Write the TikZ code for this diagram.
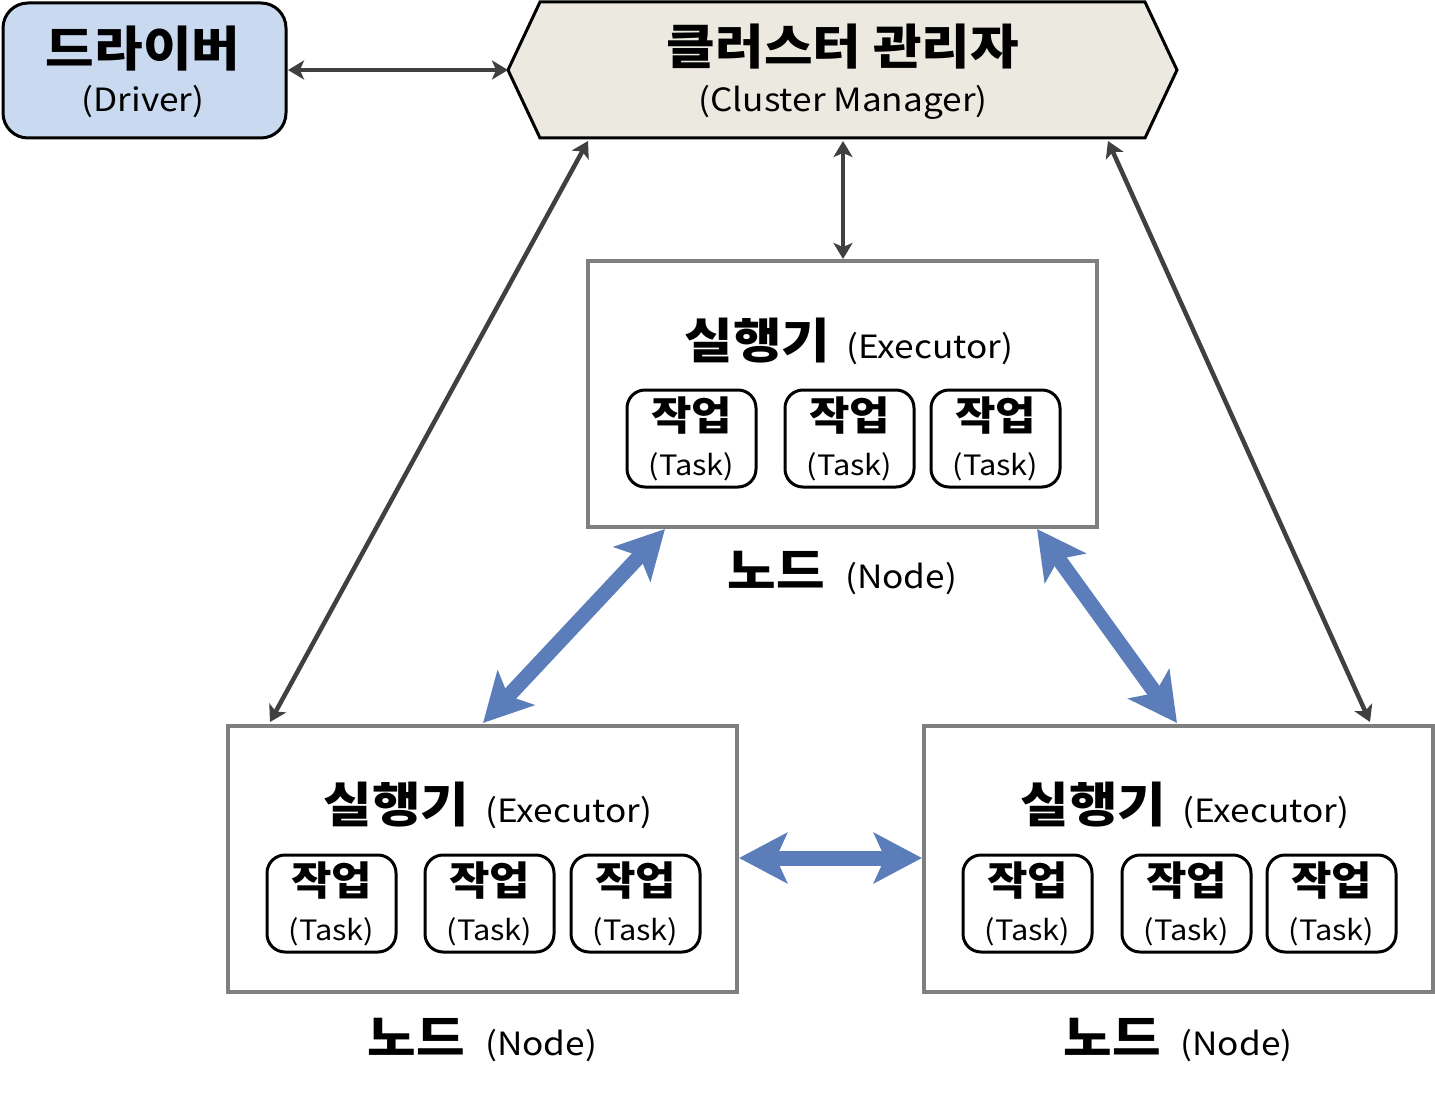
\documentclass[tikz,border=0pt]{standalone}
\usepackage{fontspec}
\setmainfont{Noto Sans CJK KR}[FakeStretch=1.1]
\usetikzlibrary{arrows.meta,calc}
\definecolor{drvfill}{HTML}{C9D9F0}
\definecolor{cmfill}{HTML}{ECE9E1}
\definecolor{boxgray}{HTML}{7F7F7F}
\definecolor{arrowgray}{HTML}{404040}
\definecolor{blueA}{HTML}{5B7DB9}
\newcommand\kTitle{\fontsize{48}{52}\selectfont\bfseries}
\newcommand\kSub{\fontsize{32}{36}\selectfont\mdseries}
\newcommand\kTask{\fontsize{40}{44}\selectfont\bfseries}
\newcommand\kTaskSub{\fontsize{28}{32}\selectfont\mdseries}
\begin{document}
\begin{tikzpicture}[x=1pt,y=-1pt,
  txt/.style={inner sep=0pt, outer sep=0pt},
  nodebox/.style={draw=boxgray, fill=white, line width=4pt, minimum width=509pt, minimum height=266pt, inner sep=0pt},
  taskbox/.style={draw=black, line width=3pt, rounded corners=18pt, minimum width=129pt, minimum height=97pt, inner sep=0pt},
  darkarrow/.style={draw=arrowgray, line width=4.5pt, {Stealth[length=16pt,width=19pt,inset=4pt]}-{Stealth[length=16pt,width=19pt,inset=4pt]}},
  bluearrow/.style={draw=blueA, line width=15pt, {Stealth[length=48pt,width=50pt,inset=11pt]}-{Stealth[length=48pt,width=50pt,inset=11pt]}}
]
\useasboundingbox (0,0) rectangle (1435,1097);

% Driver
\node[draw=black, fill=drvfill, line width=3pt, rounded corners=25pt, minimum width=283pt, minimum height=135pt, inner sep=0pt] (drv) at (144.5,70.5) {};
\node[txt] (drvT) at (143,49) {\kTitle 드라이버};
\node[txt] (drvS) at (143,102) {\kSub (Driver)};

% Cluster manager
\coordinate (cmL) at (508,70);
\coordinate (cmR) at (1177,70);
\draw[fill=cmfill, line width=3pt, line join=miter] (cmL) -- (540,2) -- (1145,2) -- (cmR) -- (1145,138) -- (540,138) -- cycle;
\node[txt] (cmT) at (843,47) {\kTitle 클러스터 관리자};
\node[txt] (cmS) at (843,102) {\kSub (Cluster Manager)};
\coordinate (cmB1) at (588,141);
\coordinate (cmB2) at (843,141);
\coordinate (cmB3) at (1108,141);

% Node boxes
\node[nodebox] (nT) at (842.5,394) {};
\node[nodebox] (nL) at (482.5,858.5) {};
\node[nodebox] (nR) at (1178,858.5) {};

% Executor labels
\node[txt, anchor=base] (eT) at (849,358) {\kTitle 실행기\hspace{16pt}\kSub (Executor)};
\node[txt, anchor=base] (eL) at (488,822) {\kTitle 실행기\hspace{16pt}\kSub (Executor)};
\node[txt, anchor=base] (eR) at (1185,822) {\kTitle 실행기\hspace{16pt}\kSub (Executor)};

% Node labels
\node[txt, anchor=base] (lT) at (842.5,588) {\kTitle 노드\hspace{20pt}\kSub (Node)};
\node[txt, anchor=base] (lL) at (482.5,1055) {\kTitle 노드\hspace{20pt}\kSub (Node)};
\node[txt, anchor=base] (lR) at (1178,1055) {\kTitle 노드\hspace{20pt}\kSub (Node)};

% Tasks
\newcommand\mytask[3]{%
  \node[taskbox] (#1) at (#2,#3) {};
  \node[txt] (#1a) at (#2,#3-23) {\kTask 작업};
  \node[txt] (#1b) at (#2,#3+28) {\kTaskSub (Task)};
}
\mytask{tT1}{691.5}{438.5}
\mytask{tT2}{849.5}{438.5}
\mytask{tT3}{995.5}{438.5}
\mytask{tL1}{331.5}{903.5}
\mytask{tL2}{489.5}{903.5}
\mytask{tL3}{635.5}{903.5}
\mytask{tR1}{1027.5}{903.5}
\mytask{tR2}{1186.5}{903.5}
\mytask{tR3}{1331.5}{903.5}

% Dark arrows
\coordinate (drvE) at (288,70);
\draw[darkarrow] (drvE) -- (cmL);
\coordinate (nTtop) at (843,259);
\draw[darkarrow] (cmB2) -- (nTtop);
\coordinate (nLtop) at (270,722);
\draw[darkarrow] (cmB1) -- (nLtop);
\coordinate (nRtop) at (1370,722);
\draw[darkarrow] (cmB3) -- (nRtop);

% Blue arrows
\coordinate (bA1) at (665,529);
\coordinate (bA2) at (483,723);
\draw[bluearrow] (bA1) -- (bA2);
\coordinate (bB1) at (1037,529);
\coordinate (bB2) at (1177,723);
\draw[bluearrow] (bB1) -- (bB2);
\coordinate (bC1) at (739,858);
\coordinate (bC2) at (922,858);
\draw[bluearrow] (bC1) -- (bC2);
\end{tikzpicture}
\end{document}
